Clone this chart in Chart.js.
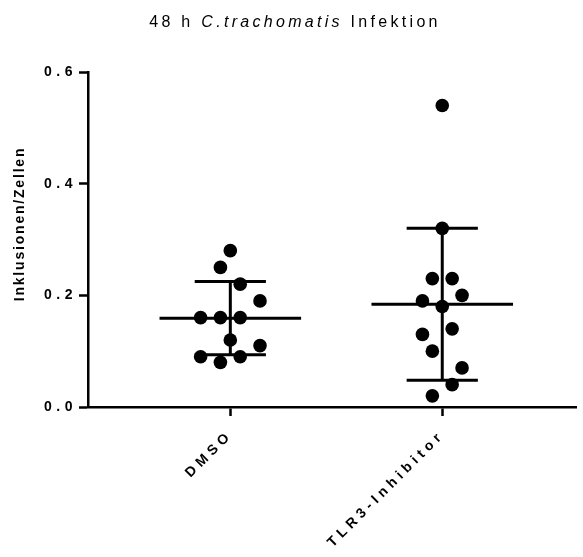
<!DOCTYPE html>
<html>
<head>
<meta charset="utf-8">
<script src="https://cdn.jsdelivr.net/npm/chart.js@4.4.1/dist/chart.umd.min.js"></script>
<style>
  html, body { margin: 0; padding: 0; background: #fff; }
</style>
</head>
<body>
<canvas id="chart" width="583" height="557"></canvas>
<script>
// groups and single measurements (inclusions per cell)
const groups = ["DMSO", "TLR3-Inhibitor"];
const dmsoValues = [0.28, 0.25, 0.22, 0.19, 0.16, 0.16, 0.16, 0.12, 0.11, 0.09, 0.09, 0.08];
const dmsoColumns = [0, -1, 1, 3, -3, -1, 1, 0, 3, -3, 1, -1];
const tlr3Values = [0.54, 0.32, 0.23, 0.23, 0.20, 0.19, 0.18, 0.14, 0.13, 0.10, 0.07, 0.04, 0.02];
const tlr3Columns = [0, 0, -1, 1, 2, -2, 0, 1, -2, -1, 2, 1, -1];
const yTicks = [0, 0.2, 0.4, 0.6];

const FONT = "'Liberation Sans', Arial, sans-serif";
const COL_STEP = 0.0467;   // scatter column width in x units
const MEAN_HALF = 0.334;   // half width of the mean line
const CAP_HALF = 0.168;    // half width of the SD caps

function mean(arr) {
  return arr.reduce((a, b) => a + b, 0) / arr.length;
}
function sd(arr) {
  const m = mean(arr);
  return Math.sqrt(arr.reduce((a, b) => a + (b - m) * (b - m), 0) / (arr.length - 1));
}

const series = [
  { values: dmsoValues, columns: dmsoColumns },
  { values: tlr3Values, columns: tlr3Columns },
];

const datasets = [];
series.forEach((s, gi) => {
  const m = mean(s.values);
  const d = sd(s.values);
  // mean line, SD whisker and caps
  const segments = [
    [[gi - MEAN_HALF, m], [gi + MEAN_HALF, m]],
    [[gi, m - d], [gi, m + d]],
    [[gi - CAP_HALF, m + d], [gi + CAP_HALF, m + d]],
    [[gi - CAP_HALF, m - d], [gi + CAP_HALF, m - d]],
  ];
  segments.forEach((seg) => {
    datasets.push({
      data: seg.map(([x, y]) => ({ x, y })),
      showLine: true,
      borderColor: "#000",
      borderWidth: 3,
      borderCapStyle: "butt",
      pointRadius: 0,
    });
  });
  datasets.push({
    data: s.values.map((v, i) => ({ x: gi + s.columns[i] * COL_STEP, y: v })),
    backgroundColor: "#000",
    borderWidth: 0,
    pointRadius: 6.8,
  });
});

// tick labels get the wide spacing; title and y label set their own
const spacedText = {
  id: "spacedText",
  beforeLayout(chart) { chart.ctx.letterSpacing = "4.5px"; },
  beforeDraw(chart) { chart.ctx.letterSpacing = "4.5px"; },
  afterDraw(chart) {
    const ctx = chart.ctx;
    ctx.save();
    ctx.fillStyle = "#000";
    ctx.textBaseline = "middle";
    ctx.textAlign = "left";
    ctx.letterSpacing = "3.3px";
    const parts = [
      ["48 h ", "16px " + FONT],
      ["C.trachomatis", "italic 16px " + FONT],
      [" Infektion", "16px " + FONT],
    ];
    let total = 0;
    parts.forEach((p) => { ctx.font = p[1]; total += ctx.measureText(p[0]).width; });
    let x = 295 - total / 2;
    parts.forEach((p) => {
      ctx.font = p[1];
      ctx.fillText(p[0], x, 23);
      x += ctx.measureText(p[0]).width;
    });
    ctx.restore();

    ctx.save();
    ctx.fillStyle = "#000";
    ctx.font = "bold 14px " + FONT;
    ctx.letterSpacing = "1.8px";
    ctx.textAlign = "center";
    ctx.textBaseline = "middle";
    ctx.translate(20, 224);
    ctx.rotate(-Math.PI / 2);
    ctx.fillText("Inklusionen/Zellen", 0, 0);
    ctx.restore();
  },
};

new Chart(document.getElementById("chart"), {
  type: "scatter",
  data: { datasets },
  plugins: [spacedText],
  options: {
    responsive: false,
    animation: false,
    layout: { padding: { top: 72, right: 2, left: 0, bottom: 0 } },
    plugins: { legend: { display: false }, tooltip: { enabled: false } },
    scales: {
      x: {
        type: "linear",
        min: -0.6715,
        max: 1.632,
        afterFit(scale) { scale.height = 150; },
        afterBuildTicks(scale) { scale.ticks = groups.map((g, i) => ({ value: i })); },
        ticks: {
          callback: (v) => groups[v],
          color: "#000",
          font: { family: FONT, size: 14, weight: "bold" },
          maxRotation: 45,
          minRotation: 45,
          padding: 11,
        },
        grid: { drawOnChartArea: false, drawTicks: true, tickLength: 9, tickWidth: 2.5, color: "#000" },
        border: { color: "#000", width: 2.5 },
      },
      y: {
        min: 0,
        max: 0.6,
        afterFit(scale) { scale.width = 88; },
        afterBuildTicks(scale) { scale.ticks = yTicks.map((v) => ({ value: v })); },
        ticks: {
          callback: (v) => v.toFixed(1),
          color: "#000",
          font: { family: FONT, size: 14, weight: "bold" },
          padding: 2,
        },
        grid: { drawOnChartArea: false, drawTicks: true, tickLength: 9, tickWidth: 2.5, color: "#000" },
        border: { color: "#000", width: 2.5 },
      },
    },
  },
});
</script>
</body>
</html>
